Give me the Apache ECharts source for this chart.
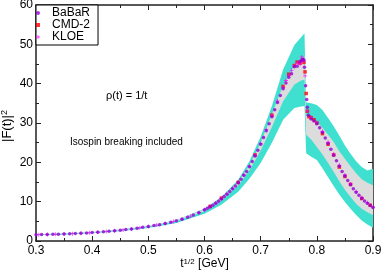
<!DOCTYPE html>
<html><head><meta charset="utf-8">
<script src="https://cdn.jsdelivr.net/npm/echarts@6/dist/echarts.min.js"></script>
<style>html,body{margin:0;padding:0;background:#fff}#c{width:382px;height:273px}</style>
</head><body><div id="c"></div>
<script>
// ---- data ----
const babarT = [0.30,0.31,0.32,0.33,0.34,0.35,0.36,0.37,0.38,0.39,0.40,0.41,0.42,0.43,0.44,0.45,0.46,0.47,0.48,0.49,0.50,0.51,0.52,0.53,0.54,0.55,0.56,0.57,0.58,0.59,
 0.600,0.605,0.610,0.615,0.620,0.625,0.630,0.635,0.640,0.645,0.650,0.655,0.660,0.665,0.670,0.675,0.680,0.685,0.690,0.695,0.700,0.705,0.710,0.715,0.720,0.725,0.730,0.735,0.740,0.745,0.750,0.755,0.760,0.765,0.770,0.772,0.775,0.777,0.778,0.780,0.782,0.783,0.785,0.790,0.795,0.800,0.805,0.810,0.815,0.820,0.825,0.830,0.835,0.840,0.845,0.850,0.855,0.860,0.865,0.870,0.875,0.880,0.885,0.890,0.895,0.900];
const babarF = [1.60,1.63,1.66,1.70,1.74,1.79,1.84,1.90,1.97,2.05,2.15,2.25,2.37,2.50,2.60,2.74,2.90,3.08,3.27,3.48,3.68,3.91,4.16,4.44,4.76,5.13,5.55,6.03,6.58,7.21,
 7.93,8.33,8.70,9.12,9.60,10.1,10.7,11.3,11.9,12.6,13.3,14.0,14.8,15.7,16.7,17.7,18.9,20.2,21.6,23.1,24.6,26.3,28.0,29.8,31.6,33.4,35.2,37.0,38.7,40.2,41.6,42.5,44.3,44.4,45.6,45.9,46.3,46.0,44.2,39.5,36.0,34.0,32.0,31.0,30.5,29.8,28.8,27.6,26.2,24.8,23.3,21.8,20.4,19.0,17.7,16.5,15.4,14.3,13.3,12.4,11.6,10.9,10.2,9.6,9.0,8.5];

const kloeT = [0.305,0.32,0.335,0.35,0.365,0.38,0.395,0.41,0.425,0.44,0.455,0.47,0.485,0.50,0.515,0.53,0.545,0.56,0.575,0.59,0.60,0.61,0.62,0.63,0.64,0.65,0.66,0.67,0.68,0.69,0.70,0.71,0.72,0.73,0.74,0.745,0.75,0.755,0.76,0.765,0.77,0.773,0.776,0.779,0.784,0.79,0.80,0.81,0.82,0.83,0.84,0.85,0.86,0.87,0.88,0.89,0.90];
const kloeF = [1.62,1.67,1.73,1.80,1.87,1.98,2.10,2.26,2.43,2.61,2.82,3.07,3.38,3.70,4.04,4.46,4.93,5.57,6.30,7.25,7.95,8.75,9.65,10.8,12.0,13.4,14.9,16.8,19.0,21.8,24.8,28.3,31.9,35.6,39.0,40.8,42.1,43.4,44.6,45.3,45.0,46.8,45.7,42.0,33.0,31.4,30.1,27.9,25.1,22.1,19.3,16.8,14.5,12.6,11.0,9.7,8.6];

const cmdT = [0.61,0.63,0.66,0.69,0.72,0.74,0.75,0.76,0.765,0.77,0.774,0.777,0.779,0.781,0.783,0.786,0.79,0.795,0.80,0.81,0.82,0.83,0.84,0.85,0.86,0.88,0.895];
const cmdF = [8.8,10.9,14.9,21.9,32.0,39.3,42.4,44.6,45.5,45.2,46.0,45.4,43.0,37.5,33.0,31.6,31.3,30.8,30.0,27.3,24.6,21.9,18.8,16.4,14.4,10.8,9.1];

const bandT  = [0.30,0.35,0.40,0.45,0.50,0.55,0.60,0.63,0.66,0.68,0.70,0.72,0.74,0.76,0.772,0.778,0.781,0.79,0.80,0.81,0.82,0.83,0.84,0.85,0.86,0.87,0.88,0.89,0.90];
const cyanLo = [1.45,1.62,1.95,2.5,3.3,4.6,6.9,9.2,12.5,15.8,19.8,25.0,30.8,33.8,34.2,34.3,22.3,21.4,20.6,18.5,16.2,14.0,11.8,9.9,8.2,6.6,5.2,4.2,3.4];
const cyanHi = [1.7,1.9,2.3,2.9,3.8,5.35,8.2,11.2,15.6,20.3,26.5,34.3,43.6,49.8,51.8,52.8,35.2,35.0,34.6,33.3,31.3,29.2,26.8,24.3,22.2,20.3,18.8,17.9,18.4];
const grayLo = [1.55,1.75,2.1,2.7,3.55,5.0,7.6,10.3,14.2,18.0,23.0,29.0,35.5,39.8,40.8,41.0,27.0,25.8,23.9,22.0,19.8,17.6,15.2,13.0,11.2,9.5,8.2,7.3,6.6];
const grayHi = [1.65,1.85,2.25,2.8,3.75,5.25,8.0,10.9,15.0,19.2,25.0,32.2,39.6,44.6,46.5,46.9,31.8,31.2,30.3,28.8,27.0,25.2,22.8,20.9,19.0,17.2,15.7,14.8,14.2];

const xTicks = {min:0.3, max:0.9, interval:0.1};
const yTicks = {min:0, max:60, interval:10};

// ---- chart ----
const FONT = "'Liberation Sans', Arial, sans-serif";
const PLUS = 'path://M2,0H3V2H5V3H3V5H2V3H0V2H2Z';
const SQUARE = 'path://M0,0H1V1H0Z';
function pairs(t, f){ return t.map((x,i)=>[x, f[i]]); }
function band(lo, hi, color, z){
  return {
    type:'custom', name:'band'+z, silent:true, z:z, clip:true,
    data:[[bandT[0], lo[0]]],
    renderItem:function(params, api){
      const pts = [];
      for (let i=0;i<bandT.length;i++) pts.push(api.coord([bandT[i], hi[i]]));
      for (let i=bandT.length-1;i>=0;i--) pts.push(api.coord([bandT[i], lo[i]]));
      return {type:'polygon', shape:{points:pts}, style:{fill:color, stroke:null}};
    }
  };
}
const richSup = {
  s:{fontSize:8, fontFamily:FONT, color:'#000', verticalAlign:'top', lineHeight:8}
};
function xAx(pos, showLabel){
  return {
    type:'value', position:pos, min:xTicks.min, max:xTicks.max, interval:xTicks.interval,
    axisLine:{show:true, onZero:false, lineStyle:{color:'#222', width:1.5}},
    axisTick:{show:true, inside:true, length:5, lineStyle:{color:'#222', width:1}},
    minorTick:{show:true, splitNumber:2, length:3, lineStyle:{color:'#222', width:1}},
    splitLine:{show:false},
    axisLabel:{show:showLabel, color:'#000', fontSize:12, fontFamily:FONT, margin:4, formatter:v=>v.toFixed(1)},
    name: showLabel ? 't{s|1/2} [GeV]' : '',
    nameLocation:'middle', nameGap:17, nameMoveOverlap:false,
    nameTextStyle:{color:'#000', fontSize:12, fontFamily:FONT, rich:richSup}
  };
}
function yAx(pos, showLabel){
  return {
    type:'value', position:pos, min:yTicks.min, max:yTicks.max, interval:yTicks.interval,
    axisLine:{show:true, onZero:false, lineStyle:{color:'#222', width:1.5}},
    axisTick:{show:true, inside:true, length:5, lineStyle:{color:'#222', width:1}},
    minorTick:{show:true, splitNumber:2, length:3, lineStyle:{color:'#222', width:1}},
    splitLine:{show:false},
    axisLabel:{show:showLabel, color:'#000', fontSize:12, fontFamily:FONT, margin:3}
  };
}
const chart = echarts.init(document.getElementById('c'), null, {renderer:'canvas'});
chart.setOption({
  animation:false,
  backgroundColor:'#fff',
  grid:{left:36, right:9, top:5, bottom:32, containLabel:false, outerBoundsMode:'none'},
  xAxis:[xAx('bottom', true), xAx('top', false)],
  yAxis:[yAx('left', true), yAx('right', false)],
  legend:{
    orient:'vertical', left:36, top:5, itemWidth:18, itemHeight:4, itemGap:0,
    padding:[2,8,2,0], borderColor:'#000', borderWidth:1, backgroundColor:'#fff', z:10,
    symbolKeepAspect:true,
    textStyle:{color:'#000', fontSize:12, lineHeight:12, fontFamily:FONT},
    data:[{name:'BaBaR', icon:'circle'},{name:'CMD-2', icon:SQUARE},{name:'KLOE', icon:PLUS}]
  },
  graphic:[
    {type:'text', x:7, y:126, rotation:Math.PI/2,
     style:{text:'|F(t)|{s|2}', fontSize:13, fontFamily:FONT, fill:'#000', align:'center', verticalAlign:'middle',
            rich:{s:{fontSize:9, fontFamily:FONT, fill:'#000', verticalAlign:'top', lineHeight:9}}}},
    {type:'text', left:106, top:90, style:{text:'ρ(t) = 1/t', font:"11px 'Liberation Sans', Arial", fill:'#000'}},
    {type:'text', left:70, top:137, style:{text:'Isospin breaking included', font:"10px 'Liberation Sans', Arial", fill:'#000'}}
  ],
  series:[
    band(cyanLo, cyanHi, '#40e0d0', 1),
    band(grayLo, grayHi, '#dcdcdc', 2),
    {type:'scatter', name:'CMD-2', data:pairs(cmdT, cmdF), symbol:SQUARE, symbolSize:3.5, itemStyle:{color:'#ff0000'}, z:3, silent:true},
    {type:'scatter', name:'KLOE', data:pairs(kloeT, kloeF), symbol:PLUS, symbolSize:4, itemStyle:{color:'#ff00ff'}, z:4, silent:true},
    {type:'scatter', name:'BaBaR', data:pairs(babarT, babarF), symbol:'circle', symbolSize:3.5, itemStyle:{color:'#9400d3'}, z:5, silent:true}
  ]
});
</script>
</body></html>
